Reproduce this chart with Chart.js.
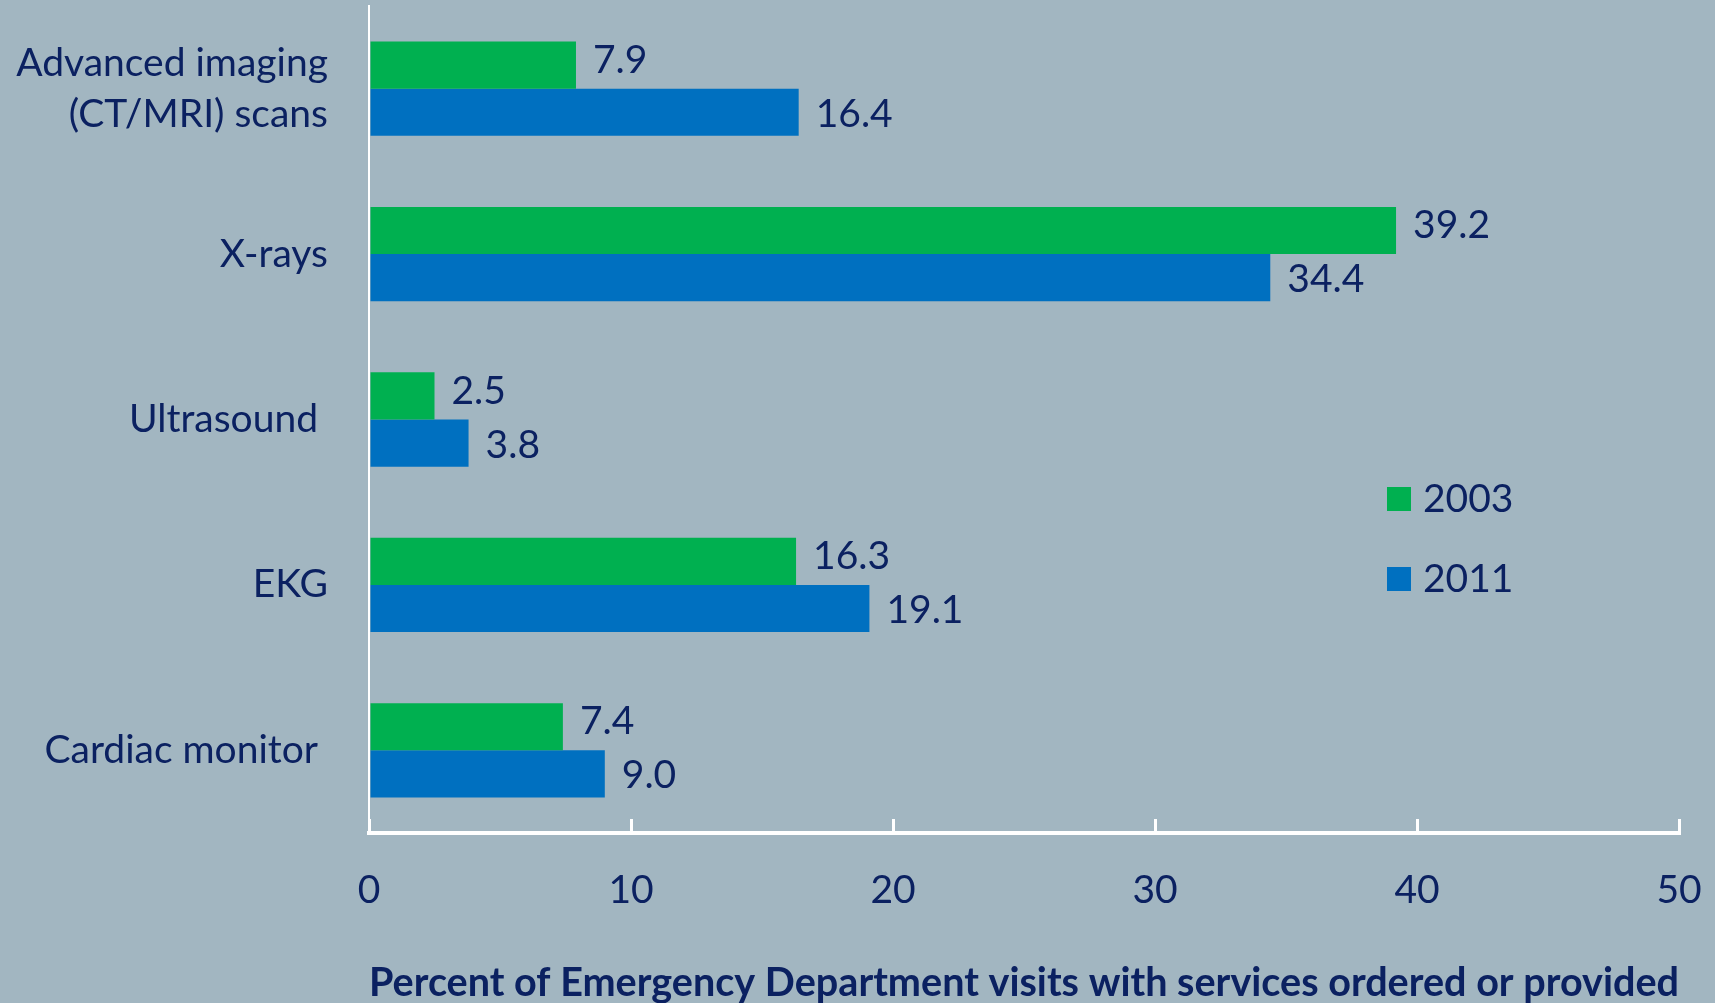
<!DOCTYPE html>
<html>
<head>
<meta charset="utf-8">
<title>ED imaging services 2003 vs 2011</title>
<script src="https://cdn.jsdelivr.net/npm/chart.js@4.4.1/dist/chart.umd.min.js"></script>
<style>
  html, body { margin: 0; padding: 0; background: #a2b6c1; }
  #wrap { position: relative; width: 1715px; height: 1003px; }
</style>
</head>
<body>
<div id="wrap"><canvas id="edChart"></canvas></div>
<script>
// ─── DATA ──────────────────────────────────────────────────
const CATEGORIES  = [['Advanced imaging', '(CT/MRI) scans'], 'X-rays', 'Ultrasound ', 'EKG', 'Cardiac monitor '];
const YEARS       = ['2003', '2011'];
const VALUES_2003 = [7.9, 39.2, 2.5, 16.3, 7.4];
const VALUES_2011 = [16.4, 34.4, 3.8, 19.1, 9.0];
const X_TICKS     = [0, 10, 20, 30, 40, 50];
const X_TITLE     = 'Percent of Emergency Department visits with services ordered or provided';

const NAVY   = '#0b2161';
const GREEN  = '#00b050';
const BLUE   = '#0070c0';
const FONT   = 'Lato, "Open Sans", sans-serif';
const LABEL_NUDGE = [-5, 2];   // excel sits the 2003 labels a bit high, 2011 a bit low

// ─── VALUE LABELS (right of each bar) ──────────────────────
const valueLabels = {
  id: 'valueLabels',
  afterDatasetsDraw(chart) {
    const ctx = chart.ctx;
    ctx.save();
    ctx.font = '39px ' + FONT;
    ctx.fillStyle = NAVY;
    ctx.textAlign = 'left';
    ctx.textBaseline = 'middle';
    chart.data.datasets.forEach((ds, di) => {
      chart.getDatasetMeta(di).data.forEach((bar, i) => {
        ctx.fillText(ds.data[i].toFixed(1), bar.x + 17, bar.y + LABEL_NUDGE[di]);
      });
    });
    ctx.restore();
  }
};

// ─── LEGEND (square swatches, right middle) ────────────────
const sideLegend = {
  id: 'sideLegend',
  afterDraw(chart) {
    const ctx = chart.ctx;
    ctx.save();
    ctx.font = '39px ' + FONT;
    ctx.textAlign = 'left';
    ctx.textBaseline = 'middle';
    chart.data.datasets.forEach((ds, i) => {
      const y = 499 + i * 80;
      ctx.fillStyle = ds.backgroundColor;
      ctx.fillRect(1387, y - 12, 24, 24);
      ctx.fillStyle = NAVY;
      ctx.fillText(ds.label, 1423, y);
    });
    ctx.restore();
  }
};

new Chart(document.getElementById('edChart'), {
  type: 'bar',
  data: {
    labels: CATEGORIES,
    datasets: [
      { label: YEARS[0], data: VALUES_2003, backgroundColor: GREEN },
      { label: YEARS[1], data: VALUES_2011, backgroundColor: BLUE },
    ],
  },
  options: {
    indexAxis: 'y',
    responsive: true,
    maintainAspectRatio: false,
    animation: false,
    categoryPercentage: 0.57,
    barPercentage: 1.0,
    layout: { padding: { top: 6, right: 36, bottom: 0, left: 0 } },
    plugins: {
      legend: { display: false },
      tooltip: { enabled: false },
    },
    scales: {
      x: {
        min: X_TICKS[0],
        max: X_TICKS[X_TICKS.length - 1],
        afterBuildTicks: s => { s.ticks = X_TICKS.map(v => ({ value: v })); },
        afterFit: s => {
          s.height = 170;
          s.paddingLeft = 0;
          s.paddingRight = 0;
        },
        grid: { drawOnChartArea: false, drawTicks: true, tickLength: -14, color: '#ffffff', lineWidth: 3 },
        border: { color: '#ffffff', width: 4 },
        ticks: { color: NAVY, font: { family: FONT, size: 39 }, padding: 48, maxRotation: 0 },
        title: {
          display: true,
          text: X_TITLE,
          color: NAVY,
          font: { family: FONT, size: 40, weight: 'bold', lineHeight: 1.0 },
          padding: { top: 0, bottom: 0 },
        },
      },
      y: {
        afterFit: s => {
          s.width = 369;
          s.paddingTop = 0;
          s.paddingBottom = 0;
        },
        grid: { display: false, drawTicks: false },
        border: { color: '#ffffff', width: 2 },
        ticks: { color: NAVY, font: { family: FONT, size: 39, lineHeight: 1.3 }, padding: 41 },
      },
    },
  },
  plugins: [valueLabels, sideLegend],
});
</script>
</body>
</html>
